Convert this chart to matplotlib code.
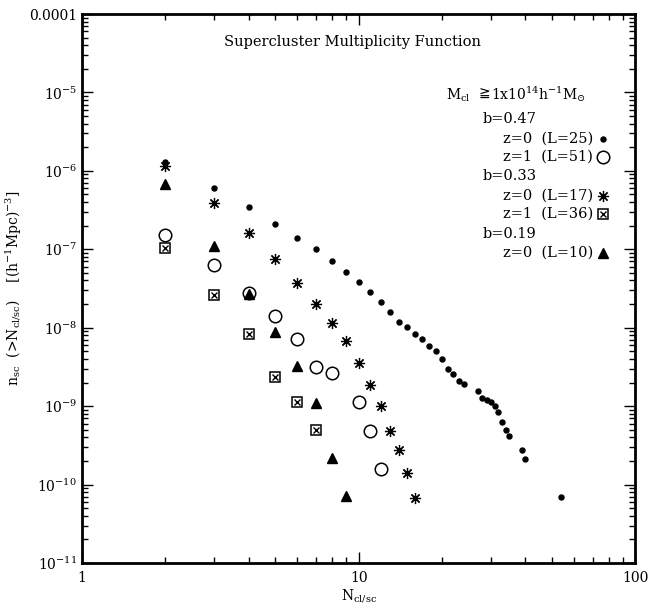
import matplotlib
matplotlib.use("Agg")
import matplotlib.pyplot as plt
from matplotlib.ticker import LogLocator, FixedLocator, FixedFormatter, NullFormatter

plt.rcParams['font.family'] = ['DejaVu Serif', 'DejaVu Sans']
plt.rcParams['mathtext.fontset'] = 'dejavuserif'

# b=0.47, z=0 (L=25) -- small dots
n_b47_z0 = [2, 3, 4, 5, 6, 7, 8, 9, 10, 11, 12, 13, 14, 15, 16, 17, 18, 19, 20, 21, 22, 23, 24,
            27, 28, 29, 30, 31, 32, 33, 34, 35, 39, 40, 54]
f_b47_z0 = [1.31e-6, 6.09e-7, 3.42e-7, 2.11e-7, 1.41e-7, 9.97e-8, 7.11e-8, 5.12e-8, 3.85e-8,
            2.87e-8, 2.12e-8, 1.57e-8, 1.19e-8, 1.01e-8, 8.22e-9, 7.16e-9, 5.83e-9, 5.07e-9,
            4.01e-9, 2.94e-9, 2.56e-9, 2.07e-9, 1.91e-9, 1.55e-9, 1.28e-9, 1.19e-9, 1.14e-9,
            1.0e-9, 8.46e-10, 6.3e-10, 4.94e-10, 4.18e-10, 2.80e-10, 2.11e-10, 6.97e-11]

# b=0.47, z=1 (L=51) -- open circles
n_b47_z1 = [2, 3, 4, 5, 6, 7, 8, 10, 11, 12]
f_b47_z1 = [1.52e-7, 6.29e-8, 2.74e-8, 1.41e-8, 7.1e-9, 3.12e-9, 2.61e-9, 1.14e-9, 4.84e-10, 1.6e-10]

# b=0.33, z=0 (L=17) -- asterisks
n_b33_z0 = [2, 3, 4, 5, 6, 7, 8, 9, 10, 11, 12, 13, 14, 15, 16]
f_b33_z0 = [1.16e-6, 3.85e-7, 1.60e-7, 7.43e-8, 3.67e-8, 2.0e-8, 1.15e-8, 6.8e-9, 3.51e-9,
            1.84e-9, 1.0e-9, 4.84e-10, 2.75e-10, 1.39e-10, 6.84e-11]

# b=0.33, z=1 (L=36) -- boxed crosses
n_b33_z1 = [2, 3, 4, 5, 6, 7]
f_b33_z1 = [1.03e-7, 2.6e-8, 8.2e-9, 2.32e-9, 1.14e-9, 4.9e-10]

# b=0.19, z=0 (L=10) -- filled triangles
n_b19_z0 = [2, 3, 4, 5, 6, 7, 8, 9]
f_b19_z0 = [6.73e-7, 1.10e-7, 2.68e-8, 8.7e-9, 3.24e-9, 1.09e-9, 2.15e-10, 7.1e-11]

x_ticks = [1, 10, 100]
x_ticklabels = ['1', '10', '100']
y_ticks = [1e-11, 1e-10, 1e-9, 1e-8, 1e-7, 1e-6, 1e-5, 1e-4]
y_ticklabels = ['10$^{-11}$', '10$^{-10}$', '10$^{-9}$', '10$^{-8}$', '10$^{-7}$',
                '10$^{-6}$', '10$^{-5}$', '0.0001']

W, H = 661, 607
fig = plt.figure(figsize=(W / 100, H / 100), dpi=100)
x0, x1, y0, y1 = 82, 635.4, 14, 563
ax = fig.add_axes([x0 / W, 1 - y1 / H, (x1 - x0) / W, (y1 - y0) / H])
ax.set_xscale('log')
ax.set_yscale('log')
ax.set_xlim(1, 100)
ax.set_ylim(1e-11, 1e-4)

k = 'black'
st_dot = dict(marker='o', ms=3.6, mfc=k, mec=k, ls='none')
st_circ = dict(marker='o', ms=9, mfc='none', mec=k, mew=1.1, ls='none')
st_ast = dict(marker=(8, 2, 0), ms=8, mec=k, mew=0.9, ls='none')
st_box = dict(marker='s', ms=6.5, mfc='none', mec=k, mew=1.1, ls='none')
st_boxx = dict(marker='x', ms=4.5, mec=k, mew=1.0, ls='none')
st_tri = dict(marker='^', ms=7, mfc=k, mec=k, ls='none')

ax.plot(n_b47_z0, f_b47_z0, **st_dot)
ax.plot(n_b47_z1, f_b47_z1, **st_circ)
ax.plot(n_b33_z0, f_b33_z0, **st_ast)
ax.plot(n_b33_z1, f_b33_z1, **st_box)
ax.plot(n_b33_z1, f_b33_z1, **st_boxx)
ax.plot(n_b19_z0, f_b19_z0, **st_tri)

ax.xaxis.set_major_locator(FixedLocator(x_ticks))
ax.xaxis.set_major_formatter(FixedFormatter(x_ticklabels))
ax.xaxis.set_minor_locator(LogLocator(base=10, subs=range(2, 10), numticks=20))
ax.xaxis.set_minor_formatter(NullFormatter())
ax.yaxis.set_major_locator(FixedLocator(y_ticks))
ax.yaxis.set_major_formatter(FixedFormatter(y_ticklabels))
ax.yaxis.set_minor_locator(LogLocator(base=10, subs=range(2, 10), numticks=20))
ax.yaxis.set_minor_formatter(NullFormatter())
ax.tick_params(which='both', direction='in', top=True, right=True, width=1.0, colors=k,
               labelsize=10)
ax.tick_params(which='major', length=8)
ax.tick_params(which='minor', length=4)
ax.tick_params(axis='x', which='major', pad=6)
for s in ax.spines.values():
    s.set_linewidth(2.0)

ax.set_xlabel('N$_{\\rm cl/sc}$', fontsize=10, labelpad=1)
ax.set_ylabel('n$_{\\rm sc}$  (>N$_{\\rm cl/sc}$)    [(h$^{-1}$Mpc)$^{-3}$]', fontsize=10, labelpad=4)

def fx(px):
    return (px - x0) / (x1 - x0)

def fy(py):
    return (y1 - py) / (y1 - y0)

ax.text(fx(352), fy(42), 'Supercluster Multiplicity Function', transform=ax.transAxes,
        ha='center', va='center', fontsize=10.5)

ax.text(fx(446), fy(95), 'M$_{\\rm cl}$', transform=ax.transAxes,
        ha='left', va='center', fontsize=10)
ax.text(fx(479), fy(94), '\u2267', transform=ax.transAxes, family=['DejaVu Sans'],
        ha='left', va='center', fontsize=10)
ax.text(fx(491), fy(94), '1x10$^{14}$h$^{-1}$M$_{\\odot}$', transform=ax.transAxes,
        ha='left', va='center', fontsize=10)

groups = [(483, 119, 'b=0.47'), (483, 176, 'b=0.33'), (483, 234, 'b=0.19')]
for px, py, t in groups:
    ax.text(fx(px), fy(py), t, transform=ax.transAxes, ha='left', va='center', fontsize=10.5)

entries = [(139, 'z=0  (L=25)', [st_dot]),
           (157, 'z=1  (L=51)', [st_circ]),
           (196, 'z=0  (L=17)', [st_ast]),
           (214, 'z=1  (L=36)', [st_box, st_boxx]),
           (253, 'z=0  (L=10)', [st_tri])]
for py, t, sts in entries:
    ax.text(fx(503), fy(py), t, transform=ax.transAxes, ha='left', va='center', fontsize=10.5)
    for st in sts:
        ax.plot([fx(603)], [fy(py)], transform=ax.transAxes, clip_on=False, **st)

fig.savefig('out.png', dpi=100)
